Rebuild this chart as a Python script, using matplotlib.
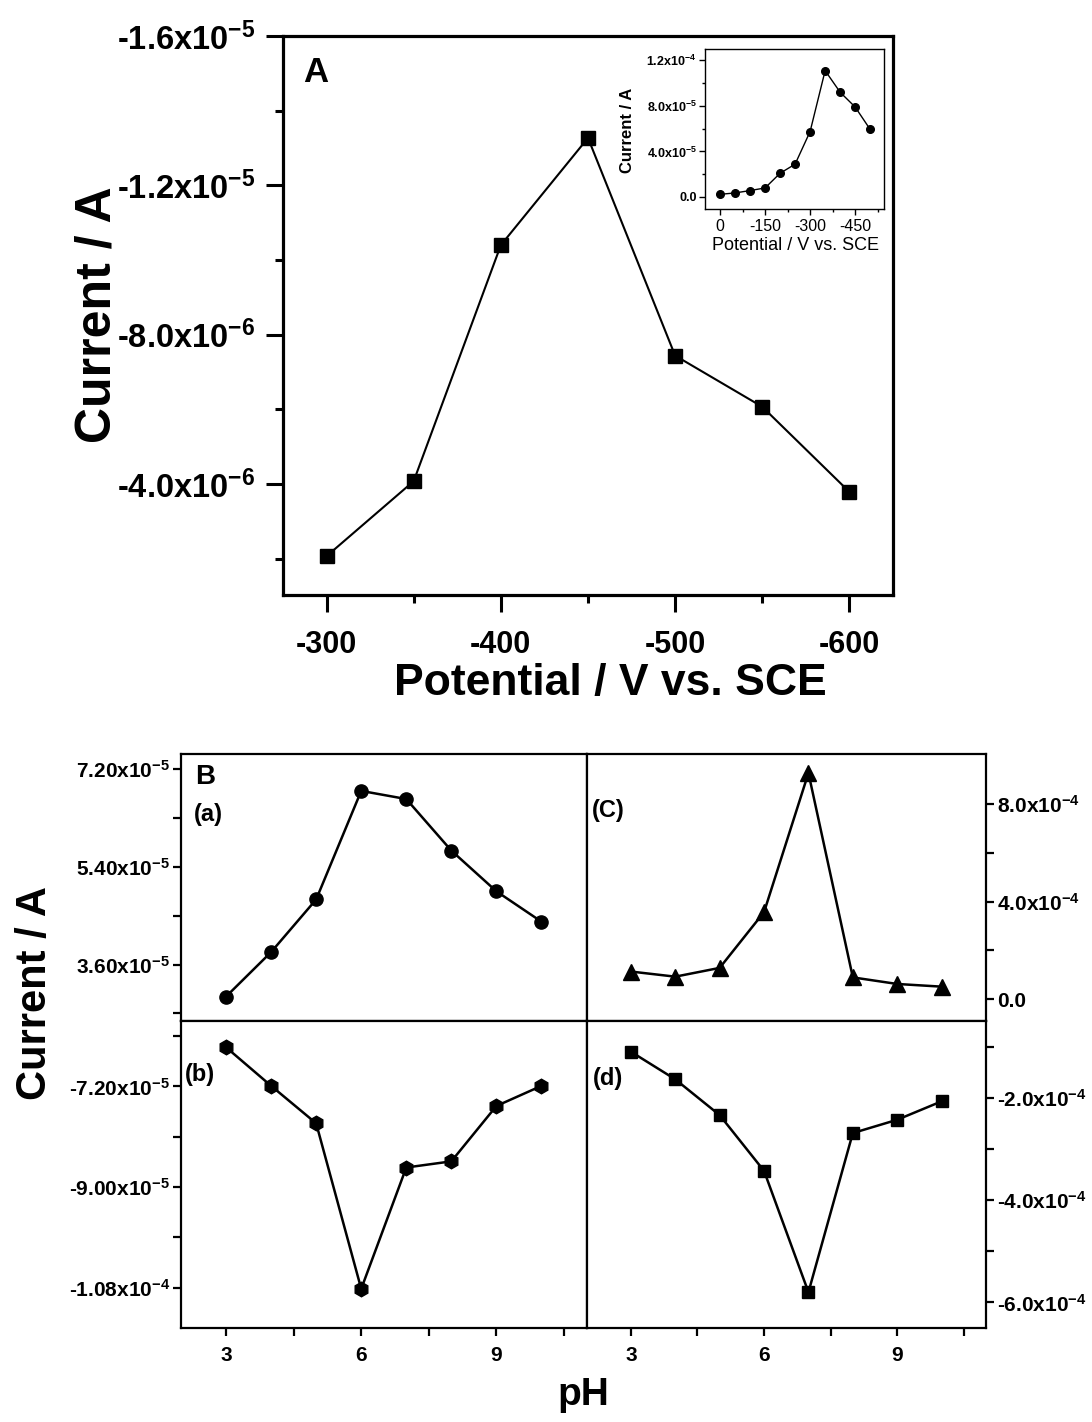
import matplotlib
matplotlib.use("Agg")
import matplotlib.pyplot as plt
from matplotlib.ticker import FixedLocator

plt.rcParams['font.family'] = ['Liberation Sans', 'DejaVu Sans']
plt.rcParams['font.weight'] = 'bold'
plt.rcParams['mathtext.fontset'] = 'custom'
plt.rcParams['mathtext.rm'] = 'Liberation Sans:bold'
plt.rcParams['mathtext.it'] = 'Liberation Sans:bold'
plt.rcParams['mathtext.bf'] = 'Liberation Sans:bold'
plt.rcParams['mathtext.default'] = 'rm'
plt.rcParams['axes.unicode_minus'] = False

# ---------------- data ----------------
# Panel A
potential_A = [-300, -350, -400, -450, -500, -550, -600]
current_A = [-2.07e-6, -4.08e-6, -1.04e-5, -1.327e-5, -7.44e-6, -6.07e-6, -3.79e-6]
A_xticks = [-300, -400, -500, -600]
A_xticklabels = ['-300', '-400', '-500', '-600']
A_xminor = [-350, -450, -550]
A_yticks = [-1.6e-5, -1.2e-5, -8.0e-6, -4.0e-6]
A_yticklabels = ['-1.6x10$^{-5}$', '-1.2x10$^{-5}$', '-8.0x10$^{-6}$', '-4.0x10$^{-6}$']
A_yminor = [-1.4e-5, -1.0e-5, -6.0e-6, -2.0e-6]

# Inset
potential_in = [0, -50, -100, -150, -200, -250, -300, -350, -400, -450, -500]
current_in = [2.3e-6, 3.5e-6, 5.6e-6, 7.9e-6, 2.08e-5, 2.88e-5, 5.75e-5, 1.11e-4, 9.2e-5, 7.9e-5, 5.93e-5]
in_xticks = [0, -150, -300, -450]
in_xticklabels = ['0', '-150', '-300', '-450']
in_xminor = [-75, -225, -375, -525]
in_yticks = [0.0, 4.0e-5, 8.0e-5, 1.2e-4]
in_yticklabels = ['0.0', '4.0x10$^{-5}$', '8.0x10$^{-5}$', '1.2x10$^{-4}$']
in_yminor = [2.0e-5, 6.0e-5, 1.0e-4]

# Panel B
pH = [3, 4, 5, 6, 7, 8, 9, 10]
cur_a = [3.01e-5, 3.83e-5, 4.80e-5, 6.80e-5, 6.65e-5, 5.70e-5, 4.95e-5, 4.39e-5]
cur_b = [-6.50e-5, -7.19e-5, -7.86e-5, -1.082e-4, -8.65e-5, -8.54e-5, -7.55e-5, -7.19e-5]
cur_c = [1.13e-4, 0.92e-4, 1.28e-4, 3.57e-4, 9.28e-4, 0.89e-4, 0.62e-4, 0.51e-4]
cur_d = [-1.10e-4, -1.64e-4, -2.34e-4, -3.43e-4, -5.80e-4, -2.69e-4, -2.43e-4, -2.07e-4]
pH_ticks = [3, 6, 9]
pH_ticklabels = ['3', '6', '9']
pH_minor = [4.5, 7.5, 10.5]
a_yticks = [3.6e-5, 5.4e-5, 7.2e-5]
a_yticklabels = ['3.60x10$^{-5}$', '5.40x10$^{-5}$', '7.20x10$^{-5}$']
a_yminor = [2.7e-5, 4.5e-5, 6.3e-5]
b_yticks = [-1.08e-4, -9.0e-5, -7.2e-5]
b_yticklabels = ['-1.08x10$^{-4}$', '-9.00x10$^{-5}$', '-7.20x10$^{-5}$']
b_yminor = [-9.9e-5, -8.1e-5, -6.3e-5]
c_yticks = [0.0, 4.0e-4, 8.0e-4]
c_yticklabels = ['0.0', '4.0x10$^{-4}$', '8.0x10$^{-4}$']
c_yminor = [2.0e-4, 6.0e-4]
d_yticks = [-6.0e-4, -4.0e-4, -2.0e-4]
d_yticklabels = ['-6.0x10$^{-4}$', '-4.0x10$^{-4}$', '-2.0x10$^{-4}$']
d_yminor = [-5.0e-4, -3.0e-4, -1.0e-4]

W, H = 1092, 1422
fig = plt.figure(figsize=(W / 100, H / 100), dpi=100)


def rect(l, t, r, b):
    return [l / W, 1 - b / H, (r - l) / W, (b - t) / H]


def fx(x):
    return x / W


def fy(y):
    return 1 - y / H


# ---------------- Panel A ----------------
axA = fig.add_axes(rect(283, 36, 893, 595))
axA.plot(potential_A, current_A, color='black', lw=1.5, marker='s', ms=10,
         mfc='black', mec='black')
axA.set_xlim(-275, -625)
axA.set_ylim(-1.03e-6, -1.6e-5)
axA.xaxis.set_major_locator(FixedLocator(A_xticks))
axA.set_xticklabels(A_xticklabels)
axA.xaxis.set_minor_locator(FixedLocator(A_xminor))
axA.yaxis.set_major_locator(FixedLocator(A_yticks))
axA.set_yticklabels(A_yticklabels)
axA.yaxis.set_minor_locator(FixedLocator(A_yminor))
for s in axA.spines.values():
    s.set_linewidth(2.3)
axA.tick_params(which='major', direction='out', length=12, width=2.2)
axA.tick_params(which='minor', direction='out', length=6, width=2.2)
axA.tick_params(axis='x', labelsize=22, pad=13)
axA.tick_params(axis='y', labelsize=23.5, pad=8)
axA.tick_params(top=False, right=False, which='both')
fig.text(fx(98), fy(315), 'Current / A', rotation=90, ha='center', va='center',
         fontsize=36, fontweight='bold')
fig.text(fx(610), fy(683), 'Potential / V vs. SCE', ha='center', va='center',
         fontsize=32, fontweight='bold')
fig.text(fx(316), fy(72), 'A', ha='center', va='center', fontsize=25, fontweight='bold')

# ---------------- Inset ----------------
axI = fig.add_axes(rect(705, 49, 884, 209))
axI.plot(potential_in, current_in, color='black', lw=1.0, marker='o', ms=5.5,
         mfc='black', mec='black')
axI.set_xlim(50, -546)
axI.set_ylim(-1.06e-5, 1.30e-4)
axI.xaxis.set_major_locator(FixedLocator(in_xticks))
axI.set_xticklabels(in_xticklabels, fontweight='normal')
axI.xaxis.set_minor_locator(FixedLocator(in_xminor))
axI.yaxis.set_major_locator(FixedLocator(in_yticks))
axI.set_yticklabels(in_yticklabels)
axI.yaxis.set_minor_locator(FixedLocator(in_yminor))
for s in axI.spines.values():
    s.set_linewidth(1.0)
axI.tick_params(which='major', direction='out', length=4, width=1.0)
axI.tick_params(which='minor', direction='out', length=2.5, width=1.0)
axI.tick_params(axis='x', labelsize=11.5, pad=3)
axI.tick_params(axis='y', labelsize=9, pad=2)
fig.text(fx(627), fy(130), 'Current / A', rotation=90, ha='center', va='center',
         fontsize=12, fontweight='bold')
fig.text(fx(795), fy(246), 'Potential / V vs. SCE', ha='center', va='center',
         fontsize=13, fontweight='normal')

# ---------------- Panel B ----------------
L, M, R = 181, 586.5, 986
T, C, B = 754, 1021, 1328
ax_a = fig.add_axes(rect(L, T, M, C))
ax_c = fig.add_axes(rect(M, T, R, C))
ax_b = fig.add_axes(rect(L, C, M, B))
ax_d = fig.add_axes(rect(M, C, R, B))

ax_a.plot(pH, cur_a, color='black', lw=1.8, marker='o', ms=9.5, mfc='black', mec='black')
ax_b.plot(pH, cur_b, color='black', lw=1.8, marker='h', ms=10.5, mfc='black', mec='black')
ax_c.plot(pH, cur_c, color='black', lw=1.8, marker='^', ms=11, mfc='black', mec='black')
ax_d.plot(pH, cur_d, color='black', lw=1.8, marker='s', ms=8, mfc='black', mec='black')

ax_a.set_ylim(2.56e-5, 7.48e-5)
ax_b.set_ylim(-1.152e-4, -6.03e-5)
ax_c.set_ylim(-0.9e-4, 1.006e-3)
ax_d.set_ylim(-6.5e-4, -0.5e-4)

for ax in (ax_a, ax_b, ax_c, ax_d):
    ax.set_xlim(2, 11)
    for s in ax.spines.values():
        s.set_linewidth(1.6)
    ax.tick_params(which='both', direction='out', length=6, width=1.6, labelsize=15)
    ax.xaxis.set_major_locator(FixedLocator(pH_ticks))
    ax.xaxis.set_minor_locator(FixedLocator(pH_minor))

for ax in (ax_a, ax_c):
    ax.tick_params(axis='x', which='both', bottom=False, labelbottom=False)
for ax in (ax_b, ax_d):
    ax.set_xticklabels(pH_ticklabels)
    ax.tick_params(axis='x', pad=7)

for ax, yt, yl, ym in ((ax_a, a_yticks, a_yticklabels, a_yminor),
                       (ax_b, b_yticks, b_yticklabels, b_yminor)):
    ax.yaxis.set_major_locator(FixedLocator(yt))
    ax.set_yticklabels(yl)
    ax.yaxis.set_minor_locator(FixedLocator(ym))
    ax.tick_params(axis='y', which='both', left=True, right=False, pad=2)

for ax, yt, yl, ym in ((ax_c, c_yticks, c_yticklabels, c_yminor),
                       (ax_d, d_yticks, d_yticklabels, d_yminor)):
    ax.yaxis.tick_right()
    ax.yaxis.set_major_locator(FixedLocator(yt))
    ax.set_yticklabels(yl)
    ax.yaxis.set_minor_locator(FixedLocator(ym))
    ax.tick_params(axis='y', which='both', left=False, right=True, pad=2)

fig.text(fx(205), fy(777), 'B', ha='center', va='center', fontsize=20, fontweight='bold')
fig.text(fx(208), fy(815), '(a)', ha='center', va='center', fontsize=17, fontweight='bold')
fig.text(fx(608), fy(811), '(C)', ha='center', va='center', fontsize=17, fontweight='bold')
fig.text(fx(200), fy(1074), '(b)', ha='center', va='center', fontsize=17, fontweight='bold')
fig.text(fx(608), fy(1078), '(d)', ha='center', va='center', fontsize=17, fontweight='bold')
fig.text(fx(35), fy(993), 'Current / A', rotation=90, ha='center', va='center',
         fontsize=30, fontweight='bold')
fig.text(fx(583), fy(1395), 'pH', ha='center', va='center', fontsize=28, fontweight='bold')

fig.savefig('out.png', dpi=100)
